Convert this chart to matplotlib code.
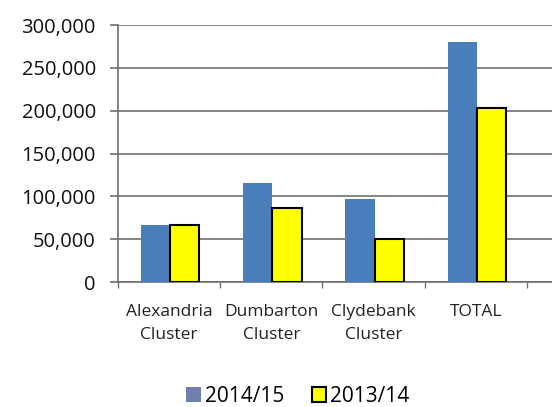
import numpy as np
import matplotlib.pyplot as plt
from matplotlib.ticker import FuncFormatter
from matplotlib.patches import Patch

# Data
categories = ["Alexandria\nCluster", "Dumbarton\nCluster", "Clydebank\nCluster", "TOTAL"]
series_names = ["2014/15", "2013/14"]
values_1415 = [66500, 116000, 97000, 280000]
values_1314 = [66000, 86000, 50000, 203000]
y_ticks = [0, 50000, 100000, 150000, 200000, 250000, 300000]

BLUE = "#4a7ebb"
YELLOW = "#ffff00"
GRID = "#707070"

plt.rcParams["font.family"] = ["Open Sans", "DejaVu Sans"]

fig = plt.figure(figsize=(5.52, 4.07), dpi=100)
ax = fig.add_axes([118 / 552, 1 - 282 / 407, 1 - 118 / 552, (282 - 25) / 407])

x = np.arange(len(categories))
w = 0.285
ax.bar(x - w / 2 + 0.01, values_1415, width=w, color=BLUE, zorder=3)
ax.bar(x + w / 2 + 0.01, values_1314, width=w, color=YELLOW, edgecolor="black", linewidth=1.5, zorder=3)

ax.set_ylim(0, 300000)
ax.set_xlim(-0.5, 3.5 + 25 / 102)
ax.set_yticks(y_ticks)
ax.yaxis.set_major_formatter(FuncFormatter(lambda v, p: f"{int(v):,}"))
ax.yaxis.grid(True, color=GRID, linewidth=1.2, zorder=0)
ax.tick_params(axis="y", length=6, width=1.2, color=GRID, pad=10, labelsize=14.5, labelcolor="#111111")

# category boundaries get the tick marks, centres get the labels
ax.set_xticks([-0.5, 0.5, 1.5, 2.5, 3.5])
ax.set_xticklabels([])
ax.set_xticks(x, minor=True)
ax.set_xticklabels(categories, minor=True, fontsize=12.5, color="#222222", linespacing=1.55)
ax.tick_params(axis="x", which="major", length=4, width=1, color=GRID)
ax.tick_params(axis="x", which="minor", length=0, pad=16)

for s in ["top", "right"]:
    ax.spines[s].set_visible(False)
ax.spines["left"].set_color(GRID)
ax.spines["left"].set_linewidth(1.2)
ax.spines["bottom"].set_color(GRID)
ax.spines["bottom"].set_linewidth(1.2)

handles = [Patch(facecolor="#6f7fb0", edgecolor="none", label=series_names[0]),
           Patch(facecolor=YELLOW, edgecolor="black", linewidth=1.5, label=series_names[1])]
fig.legend(handles=handles, loc="center", bbox_to_anchor=(298 / 552, 1 - 396 / 407), ncol=2,
           frameon=False, fontsize=15, handlelength=0.7, handleheight=0.7, handletextpad=0.2,
           columnspacing=1.3)

plt.savefig("out.png", dpi=100)
